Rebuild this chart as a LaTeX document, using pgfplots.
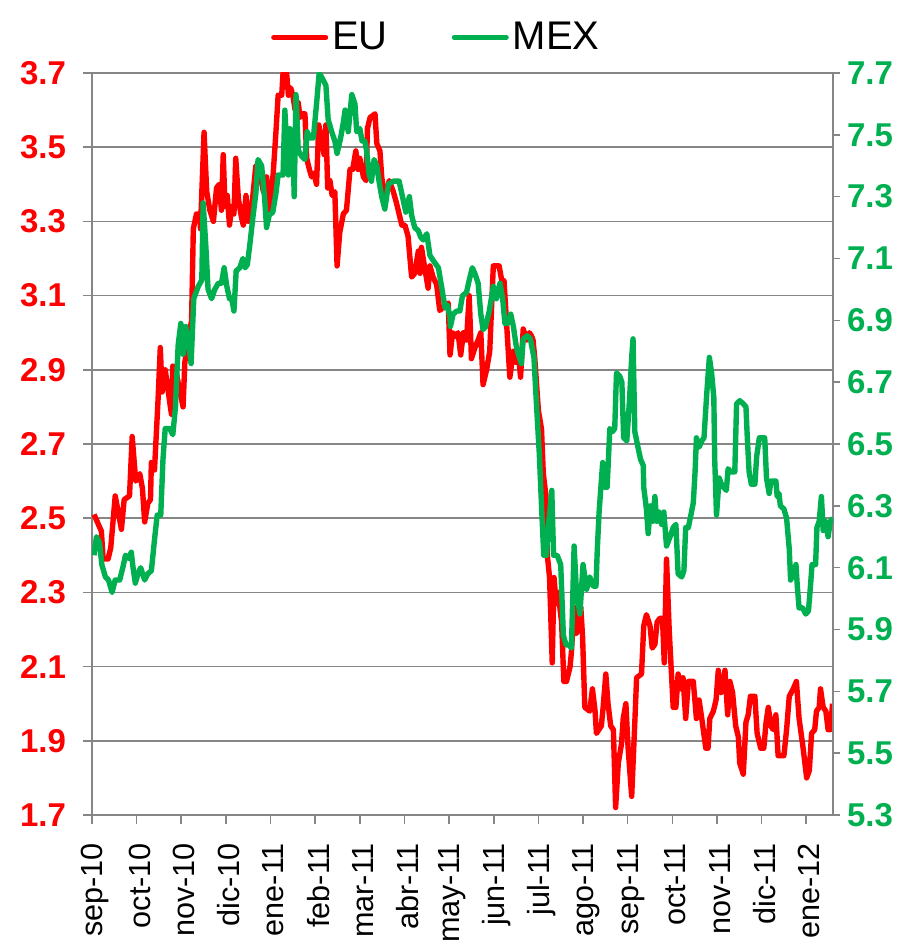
\documentclass[border=0pt]{standalone}
\usepackage{fontspec}
\setmainfont{Liberation Sans}
\usepackage{pgfplots}
\usepackage{pgfplotstable}
\pgfplotsset{compat=1.18}
\definecolor{eured}{HTML}{FF0000}
\definecolor{mexgreen}{HTML}{00B050}
\definecolor{axgray}{HTML}{868686}

\pgfplotstableread{
x y
0.045 2.51
0.21 2.465
0.25 2.39
0.36 2.39
0.42 2.42
0.52 2.56
0.66 2.47
0.72 2.55
0.84 2.56
0.90 2.72
0.98 2.60
1.07 2.62
1.13 2.58
1.18 2.49
1.25 2.54
1.31 2.55
1.33 2.65
1.40 2.63
1.48 2.82
1.53 2.96
1.57 2.84
1.64 2.90
1.78 2.78
1.81 2.91
1.89 2.89
2.04 2.80
2.08 2.92
2.19 3.01
2.23 3.03
2.27 3.28
2.34 3.32
2.42 3.32
2.43 3.28
2.51 3.54
2.57 3.38
2.64 3.33
2.72 3.30
2.79 3.39
2.85 3.40
2.90 3.33
2.94 3.48
2.98 3.34
3.03 3.37
3.08 3.29
3.13 3.34
3.18 3.32
3.22 3.47
3.28 3.36
3.35 3.31
3.39 3.29
3.45 3.37
3.50 3.30
3.58 3.34
3.67 3.45
3.76 3.43
3.84 3.38
3.91 3.42
3.97 3.32
4.06 3.43
4.12 3.54
4.17 3.64
4.25 3.64
4.28 3.70
4.36 3.70
4.40 3.64
4.45 3.66
4.50 3.64
4.55 3.60
4.62 3.62
4.66 3.58
4.70 3.59
4.77 3.59
4.81 3.47
4.87 3.44
4.92 3.42
4.97 3.43
5.03 3.40
5.08 3.56
5.14 3.52
5.20 3.48
5.24 3.56
5.28 3.39
5.33 3.41
5.38 3.37
5.44 3.38
5.49 3.18
5.55 3.27
5.63 3.32
5.70 3.33
5.78 3.44
5.84 3.44
5.91 3.49
5.96 3.44
6.00 3.47
6.08 3.42
6.14 3.41
6.17 3.55
6.23 3.58
6.34 3.59
6.38 3.51
6.45 3.49
6.49 3.42
6.56 3.36
6.66 3.41
6.75 3.38
6.82 3.35
6.88 3.32
6.94 3.29
7.01 3.29
7.08 3.26
7.16 3.15
7.23 3.16
7.31 3.22
7.35 3.16
7.38 3.23
7.46 3.17
7.53 3.12
7.57 3.18
7.64 3.15
7.72 3.13
7.79 3.06
7.88 3.07
7.98 3.08
8.02 2.94
8.08 3.00
8.15 2.99
8.20 3.00
8.26 2.94
8.32 3.00
8.39 2.98
8.45 3.10
8.50 2.93
8.58 2.96
8.65 2.98
8.71 3.00
8.76 2.86
8.84 2.90
8.91 2.95
8.99 3.18
9.12 3.18
9.18 3.14
9.23 3.14
9.29 3.02
9.36 2.88
9.44 2.95
9.50 2.92
9.55 2.95
9.60 2.88
9.66 3.01
9.74 2.98
9.80 3.00
9.85 2.99
9.88 2.98
9.92 2.93
10.00 2.79
10.07 2.74
10.11 2.62
10.17 2.56
10.20 2.40
10.25 2.34
10.31 2.11
10.35 2.34
10.40 2.27
10.44 2.30
10.52 2.22
10.57 2.06
10.63 2.06
10.71 2.10
10.74 2.14
10.80 2.26
10.85 2.19
10.91 2.21
10.95 2.26
10.99 2.18
11.04 1.99
11.15 1.98
11.21 2.04
11.27 1.98
11.30 1.92
11.41 1.94
11.45 1.99
11.51 2.08
11.56 2.00
11.62 1.94
11.68 1.93
11.73 1.72
11.79 1.84
11.86 1.89
11.90 1.96
11.96 2.00
12.01 1.88
12.09 1.75
12.16 1.95
12.20 2.07
12.31 2.08
12.36 2.21
12.42 2.24
12.50 2.21
12.55 2.15
12.61 2.16
12.66 2.22
12.72 2.23
12.78 2.23
12.82 2.11
12.87 2.39
12.93 2.20
13.02 1.99
13.08 1.99
13.13 2.08
13.19 2.04
13.24 2.07
13.30 1.96
13.36 2.06
13.47 2.06
13.54 1.96
13.60 2.01
13.66 1.96
13.75 1.88
13.80 1.88
13.84 1.96
13.92 1.98
13.98 2.01
14.03 2.09
14.09 2.03
14.14 2.05
14.18 2.09
14.24 1.97
14.29 2.06
14.35 2.03
14.42 1.94
14.48 1.91
14.51 1.84
14.59 1.81
14.65 1.95
14.70 1.97
14.75 2.02
14.85 2.02
14.90 1.92
14.98 1.88
15.05 1.88
15.10 1.95
15.15 1.99
15.21 1.94
15.26 1.93
15.32 1.97
15.37 1.86
15.43 1.86
15.50 1.86
15.56 1.93
15.62 2.02
15.71 2.04
15.78 2.06
15.84 1.96
15.92 1.89
15.96 1.85
16.01 1.80
16.07 1.82
16.12 1.92
16.19 1.93
16.23 1.98
16.29 1.99
16.32 2.04
16.38 1.99
16.44 1.98
16.49 1.93
16.54 1.93
16.59 2.00
}\eudata

\pgfplotstableread{
x y
0.045 6.14
0.10 6.20
0.17 6.18
0.22 6.11
0.30 6.07
0.37 6.06
0.45 6.02
0.52 6.06
0.62 6.06
0.69 6.10
0.75 6.14
0.82 6.13
0.88 6.15
0.92 6.10
0.97 6.05
1.03 6.08
1.09 6.10
1.18 6.06
1.25 6.08
1.33 6.09
1.40 6.19
1.46 6.27
1.54 6.27
1.59 6.45
1.64 6.55
1.74 6.55
1.81 6.53
1.87 6.62
1.93 6.82
1.99 6.89
2.04 6.79
2.10 6.88
2.15 6.84
2.22 6.76
2.28 6.97
2.38 7.01
2.46 7.03
2.49 7.28
2.55 7.14
2.60 7.00
2.68 6.97
2.75 7.00
2.83 7.02
2.90 7.02
2.96 7.07
3.02 7.01
3.08 6.97
3.13 6.97
3.18 6.93
3.23 7.06
3.31 7.07
3.38 7.10
3.43 7.07
3.48 7.08
3.54 7.15
3.61 7.24
3.67 7.31
3.72 7.42
3.80 7.40
3.87 7.29
3.91 7.20
3.97 7.24
4.05 7.25
4.12 7.31
4.17 7.37
4.28 7.37
4.32 7.58
4.36 7.47
4.40 7.37
4.43 7.52
4.50 7.47
4.53 7.30
4.57 7.63
4.62 7.45
4.70 7.43
4.77 7.42
4.82 7.51
4.88 7.49
4.96 7.49
5.03 7.60
5.09 7.70
5.17 7.68
5.24 7.66
5.29 7.55
5.37 7.51
5.44 7.48
5.49 7.44
5.57 7.49
5.63 7.54
5.67 7.58
5.74 7.51
5.82 7.63
5.89 7.60
5.93 7.51
6.00 7.52
6.05 7.48
6.11 7.48
6.15 7.45
6.21 7.37
6.26 7.35
6.32 7.42
6.38 7.40
6.43 7.35
6.49 7.30
6.56 7.26
6.64 7.34
6.75 7.35
6.88 7.35
6.94 7.31
7.03 7.25
7.11 7.30
7.16 7.24
7.23 7.20
7.31 7.19
7.36 7.17
7.42 7.16
7.50 7.18
7.57 7.11
7.66 7.09
7.76 7.07
7.83 7.01
7.91 6.94
7.96 6.95
8.02 6.91
8.03 6.88
8.09 6.92
8.17 6.93
8.24 6.93
8.30 6.98
8.39 6.99
8.45 7.03
8.52 7.07
8.58 7.05
8.65 7.02
8.71 6.92
8.76 6.87
8.82 6.88
8.90 6.93
8.99 7.01
9.06 6.97
9.14 7.02
9.20 6.97
9.25 6.89
9.32 6.89
9.38 6.92
9.44 6.88
9.50 6.82
9.55 6.79
9.62 6.76
9.66 6.84
9.75 6.85
9.82 6.84
9.90 6.78
9.96 6.62
10.02 6.47
10.07 6.30
10.12 6.14
10.18 6.14
10.22 6.23
10.30 6.35
10.34 6.14
10.42 6.14
10.50 6.11
10.56 5.88
10.62 5.85
10.69 5.85
10.74 5.84
10.80 6.17
10.85 6.03
10.93 5.95
11.00 6.11
11.08 6.03
11.15 6.07
11.23 6.04
11.29 6.04
11.32 6.16
11.36 6.28
11.44 6.44
11.49 6.36
11.54 6.36
11.60 6.55
11.66 6.54
11.71 6.55
11.75 6.73
11.82 6.72
11.87 6.70
11.91 6.52
11.98 6.51
12.04 6.64
12.09 6.78
12.12 6.84
12.16 6.54
12.23 6.49
12.29 6.45
12.35 6.43
12.36 6.36
12.42 6.29
12.46 6.21
12.51 6.30
12.56 6.25
12.61 6.33
12.65 6.25
12.70 6.28
12.76 6.24
12.81 6.28
12.87 6.17
12.95 6.20
13.02 6.23
13.08 6.24
13.13 6.08
13.21 6.07
13.26 6.09
13.30 6.23
13.36 6.23
13.43 6.28
13.47 6.31
13.51 6.41
13.54 6.52
13.60 6.49
13.66 6.51
13.71 6.52
13.77 6.66
13.83 6.78
13.88 6.73
13.93 6.65
13.95 6.45
13.99 6.27
14.05 6.39
14.10 6.37
14.15 6.36
14.21 6.35
14.25 6.42
14.31 6.41
14.40 6.41
14.44 6.63
14.51 6.64
14.59 6.63
14.65 6.62
14.68 6.52
14.72 6.41
14.77 6.37
14.85 6.37
14.89 6.46
14.95 6.52
15.00 6.52
15.07 6.52
15.11 6.39
15.17 6.34
15.21 6.38
15.32 6.38
15.35 6.33
15.39 6.34
15.42 6.30
15.50 6.29
15.56 6.26
15.62 6.16
15.65 6.06
15.71 6.08
15.77 6.11
15.80 6.04
15.84 5.97
15.92 5.97
15.99 5.95
16.05 5.96
16.10 6.05
16.13 6.11
16.21 6.11
16.24 6.23
16.29 6.25
16.34 6.33
16.38 6.22
16.43 6.25
16.49 6.20
16.54 6.25
16.60 6.26
}\mexdata

\pgfplotsset{
  common/.style={
    scale only axis,
    width=370.5pt, height=371pt,
    xmin=0, xmax=16.6,
    at={(0,0)}, anchor=south west,
    tick align=outside,
    axis line style={draw=axgray, line width=0.8pt},
    every tick/.style={draw=axgray, line width=0.8pt},
    /pgf/number format/assume math mode=true,
    /pgf/number format/.cd, fixed, fixed zerofill, precision=1,
  },
}

\begin{document}
\begin{tikzpicture}
\begin{axis}[
  common,
  ymin=1.7, ymax=3.7,
  ytick={1.7,1.9,...,3.8},
  axis x line*=bottom,
  axis y line*=left,
  major tick length=4.5pt,
  xtick={0,...,16},
  xticklabels={sep-10,oct-10,nov-10,dic-10,ene-11,feb-11,mar-11,abr-11,may-11,jun-11,jul-11,ago-11,sep-11,oct-11,nov-11,dic-11,ene-12},
  xticklabel style={rotate=90, anchor=east, font=\fontsize{15.3}{17}\selectfont, xshift=-6pt, yshift=-1.5pt},
  yticklabel style={font=\fontsize{16.5}{18}\selectfont\bfseries, text=eured, xshift=-5pt},
  ymajorgrids,
  grid style={draw=axgray, line width=0.8pt},
  legend columns=2,
  legend style={at={(0.466,1)}, anchor=south, yshift=6pt, draw=none, fill=none,
    font=\fontsize{20}{22}\selectfont,
    /tikz/every even column/.append style={column sep=30pt}},
  legend image code/.code={\draw[#1, line width=2.5pt, line cap=round] (0pt,0pt) -- (26pt,0pt);},
]
\addplot[eured, line width=2.7pt, line join=round] table[x=x, y=y] {\eudata};
\addlegendentry{EU}
\addlegendimage{mexgreen, line width=2.7pt}
\addlegendentry{MEX}
\end{axis}
\begin{axis}[
  common,
  ymin=5.3, ymax=7.7,
  ytick={5.3,5.5,...,7.8},
  axis y line*=right,
  axis x line=none,
  major tick length=3.5pt,
  yticklabel style={font=\fontsize{16.5}{18}\selectfont\bfseries, text=mexgreen, xshift=0pt},
]
\addplot[mexgreen, line width=2.7pt, line join=round] table[x=x, y=y] {\mexdata};
\end{axis}
\pgfresetboundingbox
\useasboundingbox (-46pt,-65pt) rectangle (411pt,407.5pt);
\end{tikzpicture}
\end{document}
